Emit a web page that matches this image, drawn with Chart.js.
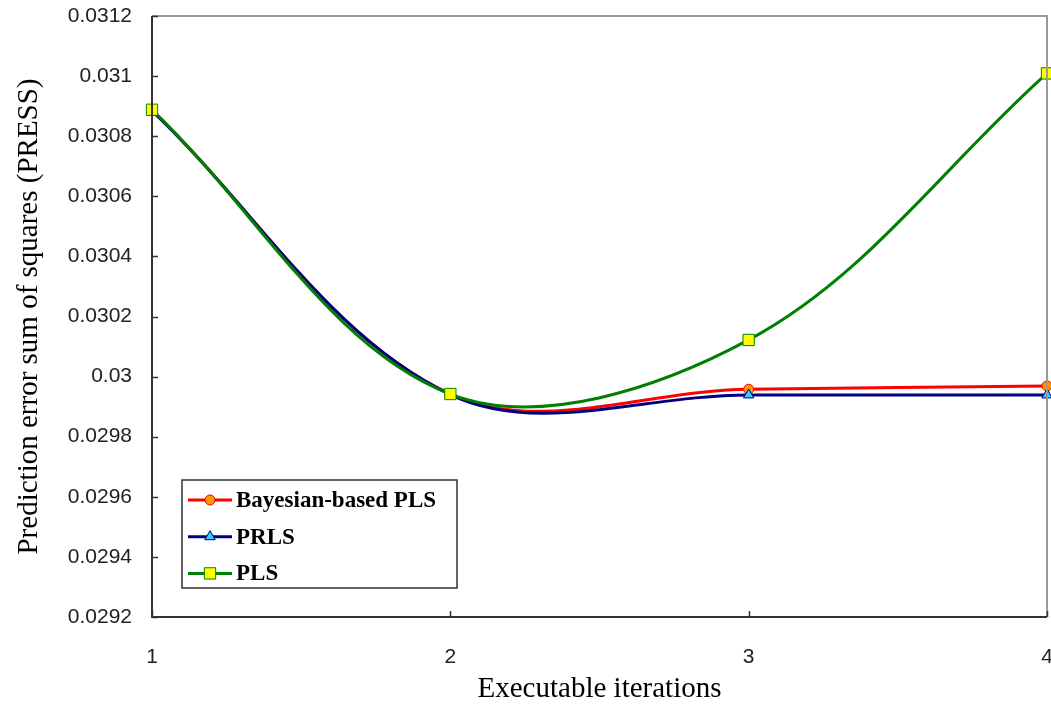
<!DOCTYPE html>
<html>
<head>
<meta charset="utf-8">
<title>PRESS vs executable iterations</title>
<script src="https://cdn.jsdelivr.net/npm/chart.js@4/dist/chart.umd.min.js"></script>
<style>
  html, body { margin: 0; padding: 0; background: #ffffff; }
  #wrap { width: 1051px; height: 709px; }
</style>
</head>
<body>
<div id="wrap"><canvas id="c" width="1051" height="709"></canvas></div>
<script>
// Executable iterations on the x axis
const iterations = ['1', '2', '3', '4'];

// Prediction error sum of squares for each method
const bayesianPLS = [0.030885, 0.029942, 0.029958, 0.029969];
const prls        = [0.030885, 0.029940, 0.029939, 0.029939];
const pls         = [0.030888, 0.029942, 0.030122, 0.031009];

// Y axis range and step
const yMin = 0.0292;
const yMax = 0.0312;
const yStep = 0.0002;

const tickFont = { family: '"Liberation Sans", Arial, sans-serif', size: 21 };
const titleFont = { family: '"Liberation Serif", "Times New Roman", serif', size: 29 };
const smoothing = 0.35;

// Frame around the plot area plus inward-facing tick marks
const framePlugin = {
  id: 'frame',
  afterDatasetsDraw(chart) {
    const { ctx, chartArea: a, scales } = chart;
    ctx.save();
    // top and right edges in grey
    ctx.strokeStyle = '#999999';
    ctx.lineWidth = 2;
    ctx.beginPath();
    ctx.moveTo(a.left, a.top);
    ctx.lineTo(a.right, a.top);
    ctx.lineTo(a.right, a.bottom);
    ctx.stroke();
    // left and bottom axes in dark grey
    ctx.strokeStyle = '#333333';
    ctx.beginPath();
    ctx.moveTo(a.left, a.top);
    ctx.lineTo(a.left, a.bottom);
    ctx.lineTo(a.right, a.bottom);
    ctx.stroke();
    // inward tick marks
    ctx.lineWidth = 1.5;
    ctx.beginPath();
    scales.y.ticks.forEach(t => {
      const y = Math.round(scales.y.getPixelForValue(t.value)) + 0.5;
      ctx.moveTo(a.left, y);
      ctx.lineTo(a.left + 6, y);
    });
    scales.x.ticks.forEach((t, i) => {
      const x = Math.round(scales.x.getPixelForTick(i)) + 0.5;
      ctx.moveTo(x, a.bottom);
      ctx.lineTo(x, a.bottom - 6);
    });
    ctx.stroke();
    ctx.restore();
  }
};

// Boxed legend drawn inside the plot area, lower left
function drawMarker(ctx, style, r, x, y) {
  ctx.beginPath();
  if (style === 'circle') {
    ctx.arc(x, y, r, 0, Math.PI * 2);
  } else if (style === 'triangle') {
    ctx.moveTo(x, y - r);
    ctx.lineTo(x + r * Math.sin(Math.PI / 3), y + r * 0.5);
    ctx.lineTo(x - r * Math.sin(Math.PI / 3), y + r * 0.5);
    ctx.closePath();
  } else {
    const s = Math.SQRT1_2 * r;
    ctx.rect(x - s, y - s, 2 * s, 2 * s);
  }
  ctx.fill();
  ctx.stroke();
}

const insideLegend = {
  id: 'insideLegend',
  afterDraw(chart) {
    const { ctx, chartArea: a } = chart;
    const ds = chart.data.datasets.slice().sort((p, q) => p.legendIndex - q.legendIndex);
    const box = { x: a.left + 30, y: a.bottom - 137, w: 275, h: 108 };
    ctx.save();
    ctx.fillStyle = '#ffffff';
    ctx.fillRect(box.x, box.y, box.w, box.h);
    ctx.strokeStyle = '#333333';
    ctx.lineWidth = 1.5;
    ctx.strokeRect(box.x, box.y, box.w, box.h);
    ctx.font = 'bold 23px "Liberation Serif", "Times New Roman", serif';
    ctx.textBaseline = 'middle';
    ds.forEach((d, i) => {
      const cy = box.y + 20 + i * 36.7;
      const x0 = box.x + 6, x1 = box.x + 50;
      ctx.strokeStyle = d.borderColor;
      ctx.lineWidth = d.borderWidth;
      ctx.beginPath();
      ctx.moveTo(x0, cy);
      ctx.lineTo(x1, cy);
      ctx.stroke();
      ctx.fillStyle = d.pointBackgroundColor;
      ctx.strokeStyle = d.pointBorderColor;
      ctx.lineWidth = d.pointBorderWidth;
      drawMarker(ctx, d.pointStyle, d.pointRadius, (x0 + x1) / 2, cy);
      ctx.fillStyle = '#000000';
      ctx.fillText(d.label, box.x + 54, cy + 1);
    });
    ctx.restore();
  }
};

new Chart(document.getElementById('c'), {
  type: 'line',
  data: {
    labels: iterations,
    datasets: [
      {
        label: 'Bayesian-based PLS',
        legendIndex: 0,
        data: bayesianPLS,
        borderColor: '#ff0000',
        borderWidth: 3,
        pointStyle: 'circle',
        pointRadius: 5,
        pointBackgroundColor: '#ff9900',
        pointBorderColor: '#ff0000',
        pointBorderWidth: 1,
        tension: smoothing,
        order: 3
      },
      {
        label: 'PRLS',
        legendIndex: 1,
        data: prls,
        borderColor: '#000080',
        borderWidth: 3,
        pointStyle: 'triangle',
        pointRadius: 6,
        pointBackgroundColor: '#33ccff',
        pointBorderColor: '#000080',
        pointBorderWidth: 1,
        tension: smoothing,
        order: 2
      },
      {
        label: 'PLS',
        legendIndex: 2,
        data: pls,
        borderColor: '#008000',
        borderWidth: 3,
        pointStyle: 'rect',
        pointRadius: 8,
        pointBackgroundColor: '#ffff00',
        pointBorderColor: '#008000',
        pointBorderWidth: 1,
        tension: smoothing,
        order: 1
      }
    ]
  },
  options: {
    responsive: false,
    animation: false,
    layout: { autoPadding: false, padding: { top: 16, right: 4, left: 0, bottom: 0 } },
    plugins: {
      legend: { display: false },
      tooltip: { enabled: false }
    },
    elements: { line: { capBezierPoints: true } },
    scales: {
      x: {
        type: 'category',
        offset: false,
        grid: { display: false, drawTicks: false },
        border: { display: false },
        ticks: { font: tickFont, color: '#222222', padding: 28, maxRotation: 0 },
        title: {
          display: true,
          text: 'Executable iterations',
          font: titleFont,
          color: '#000000',
          padding: { top: 0, bottom: 2 }
        },
        afterFit(scale) {
          scale.height = 92;
          scale.paddingLeft = 0;
          scale.paddingRight = 0;
        }
      },
      y: {
        min: yMin,
        max: yMax,
        grid: { display: false, drawTicks: false },
        border: { display: false },
        ticks: {
          stepSize: yStep,
          font: tickFont,
          color: '#222222',
          padding: 20,
          callback: v => String(parseFloat(v.toFixed(4)))
        },
        title: {
          display: true,
          text: 'Prediction error sum of squares (PRESS)',
          font: titleFont,
          color: '#000000',
          padding: { top: 12, bottom: 0 }
        },
        afterFit(scale) {
          scale.width = 152;
          scale.paddingTop = 0;
          scale.paddingBottom = 0;
        }
      }
    }
  },
  plugins: [framePlugin, insideLegend]
});
</script>
</body>
</html>
